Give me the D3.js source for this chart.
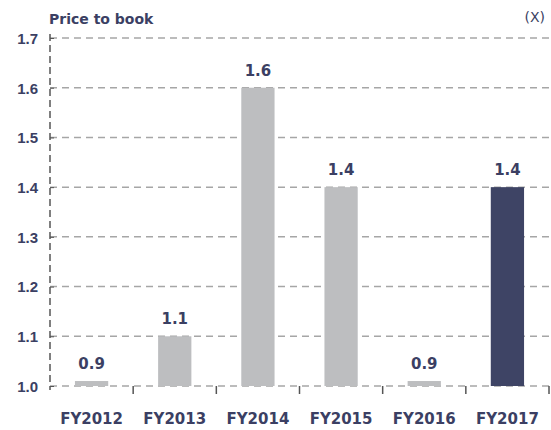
<!doctype html>
<html>
<head>
<script src="https://cdn.jsdelivr.net/npm/d3@7"></script>
<style>
body { margin: 0; background: #fff; }
svg { display: block; font-family: "DejaVu Sans", sans-serif; }
.lbl { fill: #3b3f63; font-weight: bold; font-size: 15px; }
</style>
</head>
<body>
<script>
var years = ["FY2012", "FY2013", "FY2014", "FY2015", "FY2016", "FY2017"];
var values = [0.9, 1.1, 1.6, 1.4, 0.9, 1.4];
var yTicks = [1.0, 1.1, 1.2, 1.3, 1.4, 1.5, 1.6, 1.7];

var W = 551, H = 430;
var mLeft = 50, mRight = 549, mTop = 38, mBottom = 386;

var svg = d3.select("body").append("svg").attr("width", W).attr("height", H);

var x = d3.scaleBand().domain(years).range([mLeft, mRight]).paddingInner(0.6).paddingOuter(0.3);
var xb = d3.scaleBand().domain(years).range([mLeft, mRight]);
var y = d3.scaleLinear().domain([1.0, 1.7]).range([mBottom, mTop]);

// gridlines
svg.append("g").selectAll("line").data(yTicks).enter().append("line")
  .attr("x1", mLeft).attr("x2", mRight)
  .attr("y1", function(d){ return y(d); }).attr("y2", function(d){ return y(d); })
  .attr("stroke", "#a6a6a6").attr("stroke-width", 1.5).attr("stroke-dasharray", "7,5");

// bars (values under the axis floor shown as a thin stub)
svg.append("g").selectAll("rect").data(values).enter().append("rect")
  .attr("x", function(d, i){ return x(years[i]); })
  .attr("width", x.bandwidth())
  .attr("y", function(d){ return y(Math.max(d, 1.01)); })
  .attr("height", function(d){ return mBottom - y(Math.max(d, 1.01)); })
  .attr("fill", function(d, i){ return i == years.length - 1 ? "#3e4465" : "#bdbec0"; });

// value labels
svg.append("g").selectAll("text").data(values).enter().append("text")
  .attr("class", "lbl")
  .attr("x", function(d, i){ return x(years[i]) + x.bandwidth() / 2; })
  .attr("y", function(d){ return y(Math.max(d, 1.01)) - 12; })
  .attr("text-anchor", "middle")
  .text(function(d){ return d.toFixed(1); });

// y axis
var yaxis = d3.axisLeft(y).tickValues(yTicks).tickSize(8).tickFormat(d3.format(".1f"));
var gy = svg.append("g").attr("transform", "translate(" + mLeft + ",0)").call(yaxis);
gy.select(".domain").remove();
gy.selectAll(".tick line").attr("x2", 4).attr("stroke", "#555");
gy.selectAll(".tick text").attr("class", "lbl").attr("x", -12).attr("dy", "0.36em")
  .style("font-family", null).style("font-size", null);
gy.append("line").attr("x1", 0).attr("x2", 0).attr("y1", mTop - 4).attr("y2", mBottom + 4)
  .attr("stroke", "#555").attr("stroke-width", 1.5).attr("stroke-dasharray", "7,4");

// x axis ticks at band edges
var edges = years.map(function(d){ return xb(d) + xb.bandwidth(); });
svg.append("g").selectAll("line").data(edges).enter().append("line")
  .attr("x1", function(d){ return d; }).attr("x2", function(d){ return d; })
  .attr("y1", mBottom).attr("y2", mBottom + 8)
  .attr("stroke", "#555").attr("stroke-width", 1.5);

svg.append("g").selectAll("text").data(years).enter().append("text")
  .attr("class", "lbl")
  .attr("x", function(d){ return xb(d) + xb.bandwidth() / 2; })
  .attr("y", 424)
  .attr("text-anchor", "middle")
  .text(function(d){ return d; });

svg.append("text").attr("class", "lbl").attr("x", 49).attr("y", 24).style("font-size", "14px").text("Price to book");
svg.append("text").attr("x", 545).attr("y", 22).attr("text-anchor", "end")
  .attr("fill", "#3b3f63").style("font-size", "14px").text("(X)");
</script>
</body>
</html>
